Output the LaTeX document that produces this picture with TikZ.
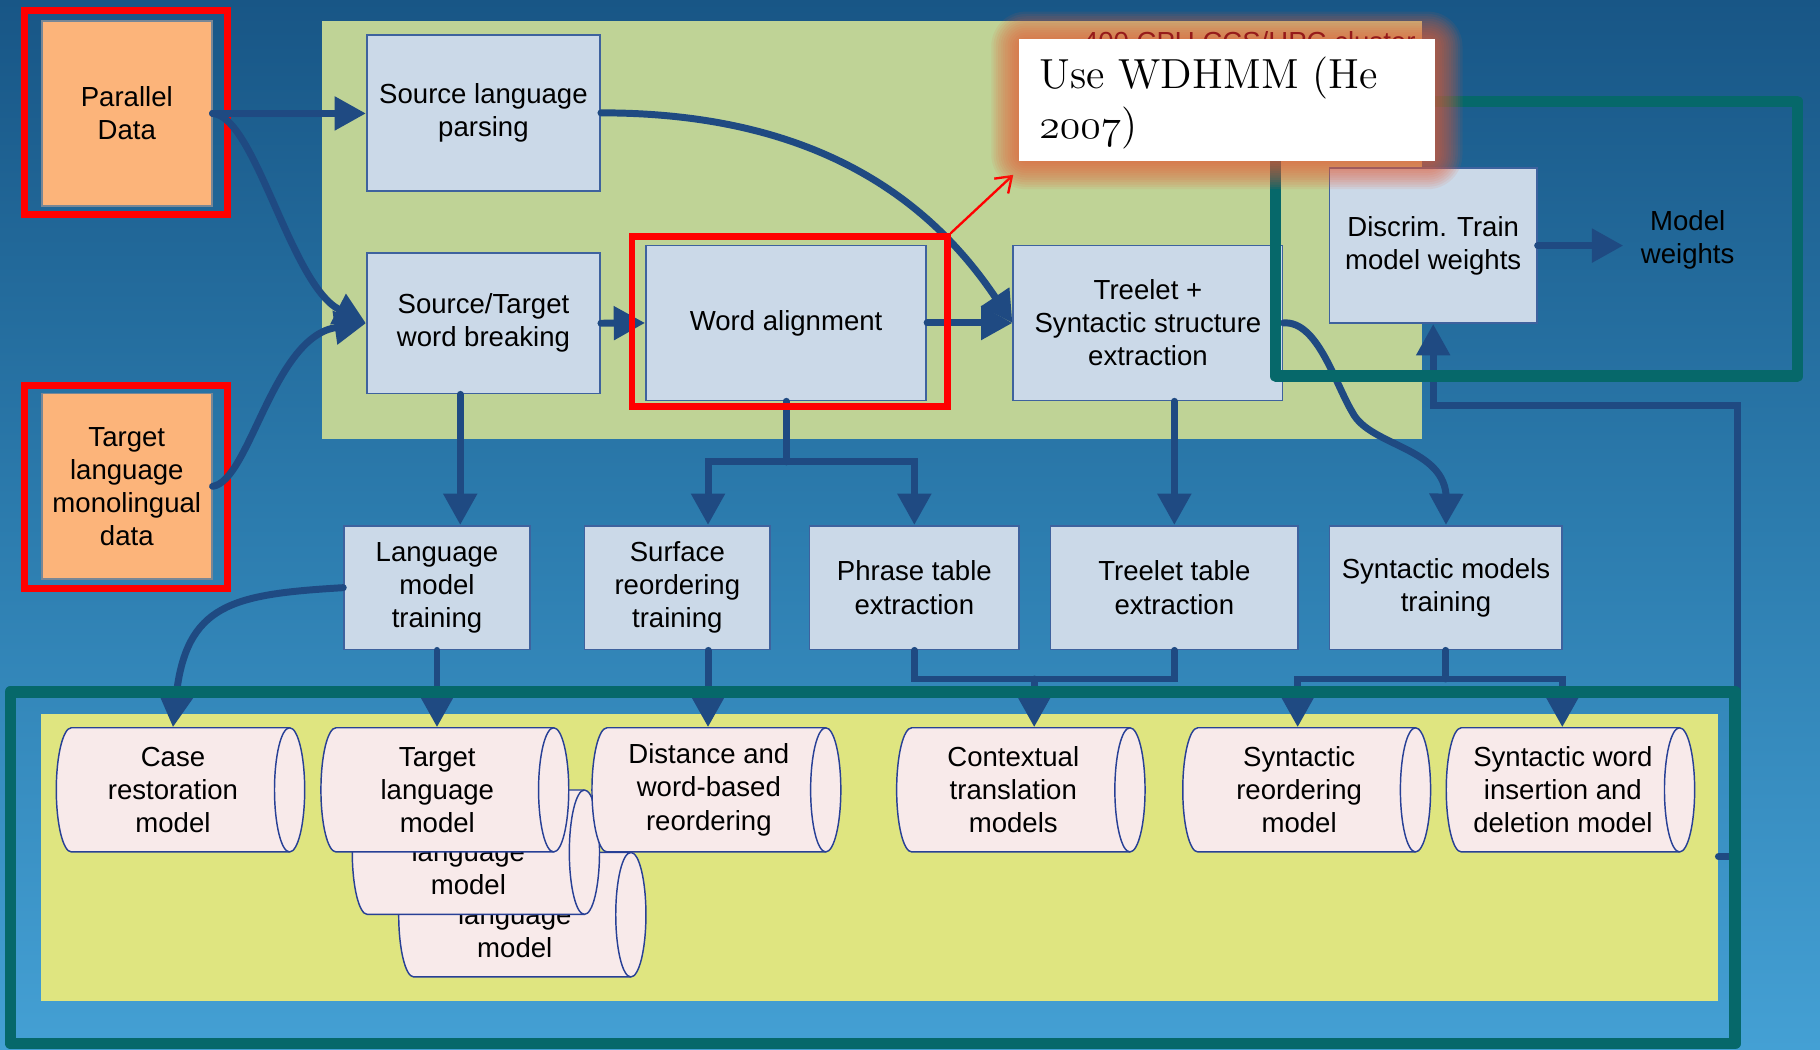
\documentclass[tikz,border=0pt]{standalone}
\usepackage{fontspec}
\newfontfamily\arialf{Liberation Sans}
\usetikzlibrary{arrows.meta,fit,calc}
\definecolor{bgtop}{RGB}{24,86,134}
\definecolor{bgmid}{RGB}{44,124,174}
\definecolor{bgbot}{RGB}{68,160,212}
\definecolor{panelgreen}{RGB}{191,211,150}
\definecolor{boxfill}{RGB}{203,217,232}
\definecolor{boxline}{RGB}{62,98,158}
\definecolor{orangefill}{RGB}{252,180,122}
\definecolor{orangeline}{RGB}{120,135,150}
\definecolor{tealc}{RGB}{6,104,106}
\definecolor{yellowp}{RGB}{223,229,128}
\definecolor{cylfill}{RGB}{248,234,234}
\definecolor{cylline}{RGB}{40,64,150}
\definecolor{arrowblue}{RGB}{31,74,130}
\definecolor{glowc}{RGB}{232,90,52}
\definecolor{clustertext}{RGB}{150,26,26}

\newcommand\mycyl[6]{%
  \pgfmathsetmacro\cxl{#2+13}%
  \pgfmathsetmacro\cxr{#4-13}%
  \pgfmathsetmacro\cym{(#3+#5)/2}%
  \pgfmathsetmacro\cky{0.5523*(#5-#3)/2}%
  \pgfmathsetmacro\cxi{#4-26}%
  \path[cylshape] (\cxl,#3) -- (\cxr,#3) .. controls (\cxr+7.18,#3) and (#4,\cym-\cky) .. (#4,\cym) .. controls (#4,\cym+\cky) and (\cxr+7.18,#5) .. (\cxr,#5) -- (\cxl,#5) .. controls (\cxl-7.18,#5) and (#2,\cym+\cky) .. (#2,\cym) .. controls (#2,\cym-\cky) and (\cxl-7.18,#3) .. (\cxl,#3) -- cycle;
  \draw[draw=cylline, line width=0.5pt] (\cxr,#3) .. controls (\cxr-7.18,#3) and (\cxi,\cym-\cky) .. (\cxi,\cym) .. controls (\cxi,\cym+\cky) and (\cxr-7.18,#5) .. (\cxr,#5);
  \node[cyltext, minimum width={(\cxr-#2)*0.4pt}, minimum height={(#5-#3)*0.4pt}] (#1) at ({(#2+\cxr)/2},\cym) {#6};
}

\begin{document}
\begin{tikzpicture}[x=0.4pt,y=-0.4pt,
  lbl/.style={font=\arialf\fontsize{9.5}{11.4}\selectfont, align=center, text=black},
  sz/.style 2 args={minimum width=#1*0.4pt, minimum height=#2*0.4pt},
  pbox/.style={lbl, draw=boxline, line width=0.6pt, fill=boxfill, inner sep=0pt},
  obox/.style={lbl, draw=orangeline, line width=0.5pt, fill=orangefill, inner sep=0pt},
  panel/.style={inner sep=0pt, draw=none},
  redframe/.style={draw=red, line width=2.4pt, inner sep=0pt},
  tealframe/.style={draw=tealc, line width=4pt, line join=round, inner sep=0pt},
  conn/.style={draw=arrowblue, line width=2.4pt, line cap=round, -{Triangle[length=10.8pt,width=11.2pt]}},
  plainconn/.style={draw=arrowblue, line width=2.4pt, line cap=round},
  cylshape/.style={fill=cylfill, draw=cylline, line width=0.5pt},
  cyltext/.style={lbl, inner sep=0pt},
  callout/.style={anchor=base west, inner sep=0pt, font=\fontsize{14.5}{17.3}\selectfont, text=black},
]
% background
\path[shade, top color=bgtop, bottom color=bgbot, middle color=bgmid] (0,0) rectangle (1568,904);
\useasboundingbox (0,0) rectangle (1568,904);

% panels
\node[panel, fill=panelgreen, fit={(277,18) (1225,378)}] (green) {};
\node[panel, fill=yellowp, fit={(35,615) (1480,862)}] (yp) {};

% red frames around inputs
\node[redframe, fit={(21,9.4) (196,184.5)}] (pdf) {};
\node[redframe, fit={(21,332) (196,507)}] (tdf) {};

% input boxes
\node[obox, sz={146.5}{159.5}] (pd) at (109.25,97.75) {Parallel\\Data};
\node[obox, sz={146.5}{160}] (td) at (109.25,419) {Target\\language\\monolingual\\data};

% process boxes
\node[pbox, sz={201}{134.5}] (sp) at (416.5,97.25) {Source language\\parsing};
\node[pbox, sz={201}{121}] (st) at (416.5,278.5) {Source/Target\\word breaking};
\node[pbox, sz={241.5}{133.5}] (wa) at (677.25,278.25) {Word alignment};
\node[pbox, sz={232}{133.5}] (tre) at (989,278.25) {Treelet +\\Syntactic structure\\extraction};
\node[pbox, sz={178.5}{133.6}] (disc) at (1234.75,211.6) {Discrim. Train\\model weights};
\node[lbl, inner xsep=5.9pt, inner ysep=0pt] (mw) at (1454,207) {Model\\weights};

\node[pbox, sz={160}{106.6}] (lmt) at (376.5,506.3) {Language\\model\\training};
\node[pbox, sz={159.9}{106.6}] (surf) at (583.55,506.3) {Surface\\reordering\\training};
\node[pbox, sz={180.5}{106.6}] (phr) at (787.75,506.3) {Phrase table\\extraction};
\node[pbox, sz={213.5}{106.6}] (tt) at (1011.75,506.3) {Treelet table\\extraction};
\node[pbox, sz={200.5}{106.6}] (sm) at (1245.75,506.3) {Syntactic models\\training};

% model cylinders
\mycyl{case}{48.5}{627}{262.5}{734}{Case\\restoration\\model}
\mycyl{tlmc}{343.5}{734.4}{556.5}{841.7}{Target\\language\\model}
\mycyl{tlmb}{303.5}{680.6}{516.5}{787.8}{Target\\language\\model}
\mycyl{tlm}{276.5}{627}{490}{734}{Target\\language\\model}
\mycyl{dist}{510}{627}{724.4}{734}{Distance and\\word-based\\reordering}
\mycyl{ctx}{772.5}{627}{986.5}{734}{Contextual\\translation\\models}
\mycyl{synr}{1019}{627}{1232.5}{734}{Syntactic\\reordering\\model}
\mycyl{synw}{1246}{627}{1460}{734}{Syntactic word\\insertion and\\deletion model}

% helper coordinates
\coordinate (lvl1) at (0,398);
\coordinate (lvl2) at (0,585);
\coordinate (stx) at (396.5,0);
\coordinate (wl) at (610,398);
\coordinate (pj) at (891,585);
\coordinate (sl) at (1118,585);
\coordinate (sr) at (1346,585);
\coordinate (fb1) at (1497,738);
\coordinate (fb2) at (1497,349);
\coordinate (rtip) at (873,150.6);

% connectors, top part
\draw[conn] (pd.east) -- (pd.east -| sp.west);
\draw[conn] (pd.east) .. controls (220,100) and (250,245) .. (st.west);
\draw[conn] (td.east) .. controls (215,415) and (235,290) .. (st.west);
\draw[conn] (sp.east) .. controls (700,97) and (800,170) .. (tre.west);
\draw[conn] (st.east) -- (wa.west);
\draw[conn] (wa.east) -- (tre.west);
\draw[conn] (st.south -| stx) -- (lmt.north -| stx);
\draw[plainconn] (wa.south) -- (wa.south |- lvl1);
\draw[conn] (wa.south |- lvl1) -- (wl) -- (wl |- surf.north);
\draw[conn] (wa.south |- lvl1) -| (phr.north);
\draw[conn] (tre.south -| tt.north) -- (tt.north);
\draw[conn] (tre.east) .. controls (1135,276) and (1150,330) .. (1165,355) .. controls (1180,385) and (1246,385) .. (1246,430) -- (sm.north);
\draw[conn] (disc.east) -- (disc.east -| mw.west);

% connectors, to models
\draw[conn] (lmt.west) .. controls (200,512) and (160,520) .. (case.north);
\draw[conn] (lmt.south) -- (lmt.south |- tlm.north);
\draw[conn] (surf.south -| wl) -- (wl |- dist.north);
\draw[plainconn] (phr.south) |- (pj) -| (tt.south);
\draw[conn] (pj) -- (pj |- ctx.north);
\draw[plainconn] (sm.south) -- (sm.south |- lvl2);
\draw[conn] (sm.south |- lvl2) -- (sl) -- (sl |- synr.north);
\draw[conn] (sm.south |- lvl2) -- (sr) -- (sr |- synw.north);

% feedback
\draw[conn] (yp.east |- fb1) -- (fb1) -- (fb2) -| (disc.south);

% highlight on word alignment
\node[redframe, fit={(544.5,204) (816,350)}] (waf) {};
\draw[red, line width=0.8pt, -{Straight Barb[length=5pt,width=7pt]}] (waf.north east) -- (rtip);

% teal frames
\node[tealframe, fit={(1099,87.5) (1548.5,324)}] (tf1) {};
\node[tealframe, fit={(9,596) (1495,899)}] (tf2) {};

% callout glow and box
\coordinate (wbnw) at (878,34);
\coordinate (wbse) at (1236,139);
\foreach \e [evaluate=\e as \rc using 2.4+0.4*\e] in {0,2,...,24} {
  \fill[glowc, opacity=0.09, rounded corners=\rc pt] ($(wbnw)+(-\e,-\e)$) rectangle ($(wbse)+(\e,\e)$);
}
\node[anchor=base east, inner sep=0pt, font=\arialf\fontsize{9.5}{11.4}\selectfont, text=clustertext] (cluster) at (1220,44.3) {400 CPU CCS/HPC cluster};
\node[fill=white, inner sep=0pt, fit=(wbnw)(wbse)] (wb) {};
\node[callout] (c1) at (895,76.4) {Use WDHMM (He};
\node[callout] (c2) at (895,119.7) {{\usefont{OML}{cmm}{m}{it}2007})};
\end{tikzpicture}
\end{document}
